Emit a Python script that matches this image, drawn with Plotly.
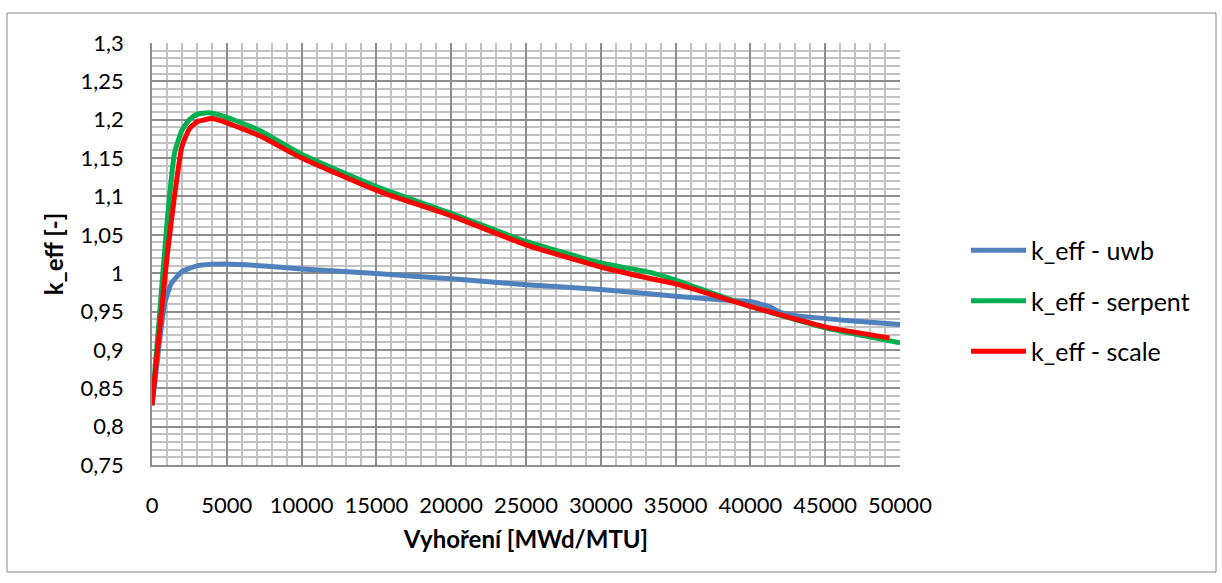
import plotly.graph_objects as go

# ---- data ----
burnup_uwb = [0, 500, 850, 1300, 2000, 3000, 4000, 5000, 7200, 10000, 15000, 20000,
              25000, 30000, 35000, 38000, 40000, 41300, 42000, 43300, 46700, 50000]
keff_uwb = [0.828, 0.910, 0.961, 0.987, 1.002, 1.0095, 1.0115, 1.012, 1.0098, 1.0056,
            0.9995, 0.9926, 0.985, 0.9788, 0.970, 0.9654, 0.963, 0.956, 0.949, 0.944,
            0.938, 0.933]

burnup_serpent = [0, 500, 1000, 1500, 2000, 2500, 3000, 3800, 5000, 7200, 10000, 15000,
                  20000, 25000, 30000, 33300, 35000, 40000, 45000, 50000]
keff_serpent = [0.828, 0.945, 1.065, 1.156, 1.186, 1.200, 1.207, 1.209, 1.203, 1.186,
                1.155, 1.113, 1.078, 1.0413, 1.0133, 1.001, 0.991, 0.9567, 0.9288, 0.9094]

burnup_scale = [0, 500, 1000, 1500, 2000, 2500, 3000, 4000, 5000, 7200, 10000, 15000,
                20000, 25000, 30000, 33300, 35000, 40000, 45000, 49300]
keff_scale = [0.828, 0.925, 1.020, 1.100, 1.165, 1.188, 1.197, 1.2015, 1.196, 1.179,
              1.150, 1.108, 1.0746, 1.037, 1.008, 0.993, 0.986, 0.9567, 0.930, 0.9157]

series_names = ["k_eff - uwb", "k_eff - serpent", "k_eff - scale"]

x_tick_vals = [0, 5000, 10000, 15000, 20000, 25000, 30000, 35000, 40000, 45000, 50000]
x_tick_text = ["0", "5000", "10000", "15000", "20000", "25000", "30000", "35000",
               "40000", "45000", "50000"]
y_tick_vals = [0.75, 0.8, 0.85, 0.9, 0.95, 1.0, 1.05, 1.1, 1.15, 1.2, 1.25, 1.3]
y_tick_text = ["0,75", "0,8", "0,85", "0,9", "0,95", "1", "1,05", "1,1", "1,15",
               "1,2", "1,25", "1,3"]

x_title = "Vyhoření [MWd/MTU]"
y_title = "k_eff [-]"

# ---- styling ----
FONT = "Lato, Carlito, Calibri, sans-serif"
colors = ["#4F81BD", "#00B050", "#FF0000"]

fig = go.Figure()
for i, (xs, ys) in enumerate([(burnup_uwb, keff_uwb),
                              (burnup_serpent, keff_serpent),
                              (burnup_scale, keff_scale)]):
    fig.add_trace(go.Scatter(
        x=xs, y=ys, mode="lines", name=series_names[i],
        legendgroup=f"g{i}",
        line=dict(color=colors[i], width=5, shape="spline", smoothing=0.5),
    ))

W, H = 1222, 583
L, R, T, B = 152, 322, 43, 118
pw, ph = W - L - R, H - T - B

def px2paper_x(px):
    return (px - L) / pw

def px2paper_y(py):
    return (H - B - py) / ph

fig.update_layout(
    width=W, height=H,
    margin=dict(l=L, r=R, t=T, b=B),
    paper_bgcolor="white", plot_bgcolor="white",
    font=dict(family=FONT, size=22, color="black"),
    showlegend=True,
    legend=dict(
        x=px2paper_x(966), y=px2paper_y(301), xanchor="left", yanchor="middle",
        font=dict(size=25, family=FONT, color="black"),
        traceorder="grouped", tracegroupgap=15, itemwidth=55,
        bgcolor="rgba(0,0,0,0)",
    ),
    xaxis=dict(
        range=[0, 50000], tickvals=x_tick_vals, ticktext=x_tick_text,
        showgrid=True, gridcolor="#8E8E8E", gridwidth=1.6,
        minor=dict(dtick=1000, tick0=0, showgrid=True, gridcolor="#C2C2C2", gridwidth=1.6),
        showline=True, linecolor="#8E8E8E", linewidth=1.6,
        ticks="", ticklabelstandoff=20,
        zeroline=False,
        title=dict(text=x_title, standoff=14),
        automargin=False,
    ),
    yaxis=dict(
        range=[0.75, 1.3], tickvals=y_tick_vals, ticktext=y_tick_text,
        showgrid=True, gridcolor="#8E8E8E", gridwidth=1.6,
        minor=dict(dtick=0.01, tick0=0.75, showgrid=True, gridcolor="#C2C2C2", gridwidth=1.6),
        showline=True, linecolor="#8E8E8E", linewidth=1.6,
        ticks="", ticklabelstandoff=22,
        zeroline=False,
        title=dict(text=y_title, standoff=10),
        automargin=False,
    ),
)
fig.update_xaxes(title_font=dict(size=24, family=FONT, weight="bold"))
fig.update_yaxes(title_font=dict(size=24, family=FONT, weight="bold"))

# outer chart border
fig.add_shape(type="rect", xref="paper", yref="paper",
              x0=px2paper_x(7), x1=px2paper_x(1216),
              y0=px2paper_y(572), y1=px2paper_y(13),
              line=dict(color="#868686", width=1), fillcolor="rgba(0,0,0,0)",
              layer="below")

fig.write_html("out.html")
